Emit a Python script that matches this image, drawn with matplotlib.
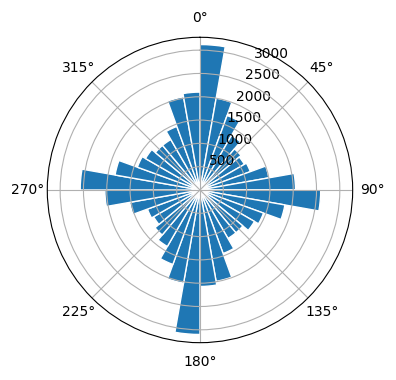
import numpy as np
import matplotlib
matplotlib.use("Agg")
import matplotlib.pyplot as plt

# Direction bins (degrees, start of each 10-degree sector)
directions = list(range(0, 360, 10))
# Counts per sector
counts = [3120, 2000, 1700, 1350, 1150, 1100, 1150, 1500, 2050,
          2590, 1850, 1450, 1350, 1200, 1200, 1450, 1990, 2070,
          3100, 2030, 1700, 1400, 1260, 1150, 1200, 1530, 2040,
          2570, 1850, 1430, 1350, 1250, 1250, 1450, 2030, 2100]
bin_width_deg = 10

fig = plt.figure(figsize=(3.96, 3.80), dpi=100)
ax = fig.add_axes([0.1194, 0.0982, 0.7712, 0.8037], projection='polar')
ax.set_theta_zero_location('N')
ax.set_theta_direction(-1)
ax.bar(np.deg2rad(directions), counts, width=np.deg2rad(bin_width_deg),
       align='edge', color='#1f77b4', edgecolor='white', linewidth=1)
fig.savefig('out.png', dpi=100)
